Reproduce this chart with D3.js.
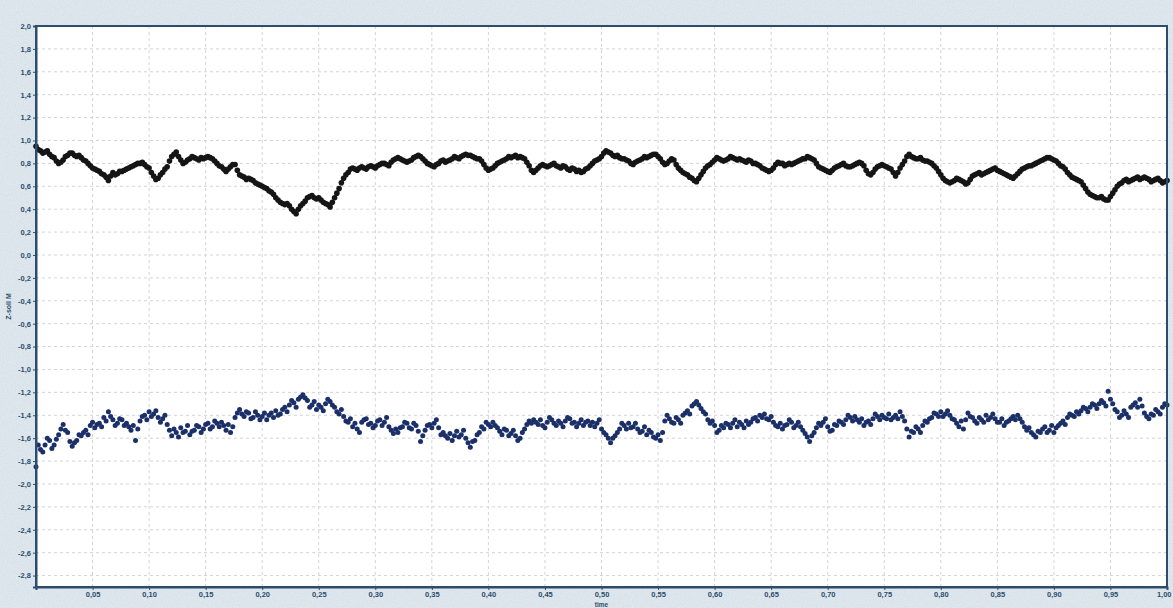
<!DOCTYPE html>
<html lang="en">
<head>
<meta charset="UTF-8">
<title>Z-soll M over time</title>
<style>
  *{margin:0;padding:0;}
  body{background:#dfe7ed;}
  #container{width:1173px;height:608px;}
</style>
</head>
<body>
<div id="container"></div>
<script src="https://cdn.jsdelivr.net/npm/d3@7/dist/d3.min.js"></script>
<script>
// upper series (black), one value every 0.004 of time
var seriesUpper = [
  0.95,0.91,0.90,0.88,0.85,0.80,0.83,0.87,0.89,0.86,
  0.85,0.82,0.78,0.75,0.73,0.70,0.65,0.72,0.71,0.73,
  0.75,0.77,0.79,0.80,0.79,0.76,0.69,0.67,0.72,0.77,
  0.86,0.90,0.83,0.81,0.84,0.85,0.83,0.84,0.86,0.84,
  0.80,0.77,0.73,0.77,0.79,0.70,0.68,0.67,0.65,0.62,
  0.60,0.58,0.55,0.50,0.46,0.44,0.43,0.38,0.40,0.45,
  0.50,0.52,0.49,0.48,0.45,0.42,0.50,0.58,0.67,0.72,
  0.76,0.74,0.77,0.75,0.78,0.76,0.79,0.80,0.78,0.83,
  0.85,0.83,0.81,0.83,0.86,0.86,0.82,0.79,0.77,0.80,
  0.83,0.82,0.84,0.85,0.86,0.88,0.87,0.85,0.84,0.79,
  0.74,0.76,0.80,0.82,0.84,0.85,0.87,0.86,0.84,0.78,
  0.72,0.76,0.79,0.77,0.79,0.78,0.76,0.77,0.74,0.75,
  0.74,0.73,0.76,0.80,0.83,0.86,0.91,0.89,0.86,0.85,
  0.84,0.82,0.79,0.82,0.84,0.85,0.87,0.88,0.84,0.79,
  0.82,0.83,0.76,0.72,0.70,0.67,0.64,0.70,0.76,0.79,
  0.83,0.84,0.82,0.84,0.85,0.83,0.83,0.81,0.82,0.80,
  0.78,0.75,0.73,0.76,0.81,0.80,0.79,0.79,0.81,0.83,
  0.84,0.85,0.83,0.77,0.75,0.73,0.74,0.77,0.79,0.78,
  0.77,0.79,0.81,0.78,0.71,0.72,0.77,0.79,0.77,0.75,
  0.69,0.76,0.82,0.88,0.85,0.84,0.83,0.82,0.80,0.76,
  0.70,0.65,0.63,0.65,0.66,0.64,0.63,0.69,0.71,0.70,
  0.72,0.74,0.76,0.73,0.71,0.69,0.67,0.71,0.75,0.77,
  0.78,0.80,0.82,0.84,0.85,0.83,0.80,0.77,0.72,0.68,
  0.66,0.64,0.58,0.53,0.51,0.50,0.49,0.48,0.54,0.60,
  0.63,0.66,0.65,0.67,0.66,0.68,0.66,0.65,0.67,0.63,0.65
]
// the samples that fall in between (time + 0.002)
var seriesUpperMid = [
  0.92,0.89,0.91,0.86,0.82,0.81,0.86,0.89,0.87,0.87,
  0.83,0.80,0.76,0.74,0.71,0.68,0.69,0.70,0.73,0.74,
  0.76,0.78,0.80,0.81,0.77,0.72,0.66,0.70,0.75,0.82,
  0.88,0.86,0.80,0.83,0.86,0.84,0.85,0.85,0.85,0.82,
  0.78,0.75,0.75,0.79,0.74,0.69,0.66,0.66,0.63,0.61,
  0.59,0.56,0.53,0.48,0.45,0.45,0.40,0.36,0.43,0.47,
  0.51,0.50,0.50,0.46,0.44,0.46,0.54,0.63,0.70,0.75,
  0.75,0.76,0.76,0.77,0.77,0.78,0.80,0.79,0.81,0.84,
  0.84,0.82,0.82,0.85,0.87,0.84,0.80,0.78,0.79,0.82,
  0.81,0.83,0.86,0.84,0.87,0.87,0.86,0.84,0.82,0.76,
  0.75,0.78,0.81,0.83,0.86,0.86,0.85,0.85,0.81,0.74,
  0.74,0.78,0.78,0.78,0.80,0.77,0.78,0.75,0.76,0.73,
  0.72,0.75,0.78,0.82,0.84,0.89,0.90,0.87,0.87,0.84,
  0.83,0.80,0.81,0.83,0.86,0.86,0.88,0.86,0.81,0.80,
  0.84,0.79,0.74,0.71,0.68,0.65,0.67,0.73,0.78,0.81,
  0.85,0.83,0.83,0.86,0.84,0.84,0.82,0.83,0.80,0.79,
  0.76,0.74,0.74,0.79,0.80,0.78,0.80,0.80,0.82,0.84,
  0.86,0.84,0.80,0.76,0.74,0.72,0.76,0.78,0.80,0.77,
  0.78,0.80,0.80,0.74,0.70,0.75,0.78,0.78,0.76,0.72,
  0.72,0.79,0.86,0.86,0.84,0.85,0.82,0.81,0.78,0.73,
  0.67,0.64,0.64,0.67,0.65,0.62,0.66,0.70,0.72,0.71,
  0.73,0.75,0.74,0.72,0.70,0.68,0.69,0.73,0.76,0.78,
  0.79,0.81,0.83,0.85,0.84,0.82,0.78,0.75,0.70,0.67,
  0.65,0.61,0.55,0.52,0.50,0.51,0.48,0.51,0.57,0.62,
  0.65,0.64,0.66,0.68,0.67,0.67,0.64,0.66,0.65,0.64
]
// lower series (dark blue)
var seriesLower = [
  -1.85,-1.70,-1.66,-1.62,-1.66,-1.57,-1.48,-1.55,-1.67,-1.62,
  -1.58,-1.53,-1.49,-1.51,-1.47,-1.42,-1.37,-1.44,-1.47,-1.44,
  -1.47,-1.53,-1.62,-1.45,-1.40,-1.37,-1.39,-1.42,-1.43,-1.48,
  -1.58,-1.55,-1.51,-1.54,-1.57,-1.53,-1.50,-1.52,-1.47,-1.50,
  -1.47,-1.46,-1.53,-1.55,-1.42,-1.35,-1.41,-1.38,-1.42,-1.40,
  -1.41,-1.44,-1.38,-1.36,-1.39,-1.33,-1.31,-1.29,-1.26,-1.22,
  -1.27,-1.31,-1.35,-1.33,-1.30,-1.28,-1.33,-1.39,-1.41,-1.46,
  -1.50,-1.52,-1.46,-1.43,-1.47,-1.49,-1.44,-1.46,-1.50,-1.56,
  -1.55,-1.50,-1.47,-1.52,-1.49,-1.63,-1.53,-1.48,-1.47,-1.51,
  -1.55,-1.60,-1.62,-1.54,-1.57,-1.60,-1.68,-1.62,-1.55,-1.52,
  -1.48,-1.46,-1.51,-1.57,-1.53,-1.56,-1.58,-1.60,-1.52,-1.45,
  -1.44,-1.48,-1.49,-1.46,-1.44,-1.49,-1.47,-1.45,-1.43,-1.46,
  -1.47,-1.49,-1.45,-1.46,-1.47,-1.52,-1.57,-1.64,-1.58,-1.52,
  -1.49,-1.47,-1.50,-1.52,-1.54,-1.57,-1.55,-1.60,-1.62,-1.45,
  -1.43,-1.47,-1.44,-1.40,-1.36,-1.32,-1.28,-1.34,-1.39,-1.47,
  -1.49,-1.53,-1.51,-1.48,-1.47,-1.50,-1.48,-1.45,-1.46,-1.42,
  -1.40,-1.39,-1.44,-1.46,-1.50,-1.52,-1.48,-1.46,-1.49,-1.50,
  -1.56,-1.63,-1.55,-1.47,-1.46,-1.50,-1.53,-1.49,-1.46,-1.44,
  -1.42,-1.41,-1.46,-1.49,-1.45,-1.43,-1.41,-1.40,-1.43,-1.44,
  -1.40,-1.37,-1.45,-1.59,-1.55,-1.52,-1.49,-1.46,-1.42,-1.39,
  -1.37,-1.39,-1.40,-1.44,-1.50,-1.52,-1.38,-1.42,-1.47,-1.44,
  -1.40,-1.42,-1.43,-1.46,-1.49,-1.45,-1.41,-1.40,-1.46,-1.53,
  -1.55,-1.59,-1.55,-1.50,-1.53,-1.55,-1.49,-1.45,-1.42,-1.40,
  -1.37,-1.36,-1.34,-1.33,-1.31,-1.30,-1.29,-1.19,-1.30,-1.37,
  -1.40,-1.39,-1.33,-1.29,-1.26,-1.38,-1.43,-1.40,-1.37,-1.33,-1.31
]
var seriesLowerMid = [
  -1.66,-1.72,-1.60,-1.69,-1.61,-1.52,-1.53,-1.63,-1.64,-1.57,
  -1.55,-1.57,-1.46,-1.48,-1.50,-1.45,-1.41,-1.49,-1.43,-1.49,
  -1.50,-1.49,-1.52,-1.41,-1.44,-1.41,-1.36,-1.46,-1.40,-1.53,
  -1.52,-1.59,-1.55,-1.49,-1.54,-1.49,-1.55,-1.48,-1.52,-1.45,
  -1.50,-1.49,-1.48,-1.50,-1.38,-1.39,-1.37,-1.43,-1.37,-1.44,
  -1.38,-1.40,-1.42,-1.40,-1.35,-1.37,-1.27,-1.33,-1.24,-1.25,
  -1.33,-1.28,-1.31,-1.36,-1.26,-1.31,-1.37,-1.35,-1.45,-1.43,
  -1.47,-1.55,-1.44,-1.48,-1.51,-1.45,-1.49,-1.42,-1.53,-1.52,
  -1.51,-1.46,-1.51,-1.47,-1.54,-1.58,-1.49,-1.51,-1.44,-1.57,
  -1.58,-1.56,-1.58,-1.59,-1.53,-1.64,-1.63,-1.57,-1.50,-1.46,
  -1.50,-1.49,-1.54,-1.52,-1.58,-1.53,-1.62,-1.55,-1.48,-1.47,
  -1.46,-1.44,-1.51,-1.42,-1.47,-1.45,-1.50,-1.42,-1.47,-1.50,
  -1.44,-1.46,-1.49,-1.50,-1.44,-1.55,-1.60,-1.60,-1.55,-1.47,
  -1.52,-1.51,-1.47,-1.55,-1.50,-1.53,-1.59,-1.57,-1.55,-1.40,
  -1.46,-1.42,-1.47,-1.38,-1.39,-1.30,-1.31,-1.37,-1.44,-1.45,
  -1.55,-1.49,-1.47,-1.51,-1.44,-1.46,-1.51,-1.48,-1.43,-1.45,
  -1.42,-1.43,-1.41,-1.49,-1.47,-1.49,-1.44,-1.51,-1.46,-1.53,
  -1.59,-1.58,-1.51,-1.49,-1.43,-1.54,-1.48,-1.45,-1.48,-1.40,
  -1.45,-1.44,-1.43,-1.46,-1.48,-1.39,-1.44,-1.42,-1.39,-1.42,
  -1.43,-1.41,-1.52,-1.54,-1.50,-1.55,-1.45,-1.43,-1.38,-1.41,
  -1.41,-1.36,-1.43,-1.47,-1.45,-1.44,-1.41,-1.45,-1.42,-1.46,
  -1.44,-1.39,-1.46,-1.43,-1.46,-1.43,-1.44,-1.43,-1.50,-1.51,
  -1.57,-1.54,-1.52,-1.55,-1.49,-1.51,-1.47,-1.48,-1.39,-1.41,
  -1.39,-1.33,-1.37,-1.30,-1.34,-1.27,-1.32,-1.26,-1.35,-1.42,
  -1.36,-1.42,-1.31,-1.33,-1.32,-1.41,-1.39,-1.35,-1.39,-1.30
]
// sample times: main samples on 0..1, mid samples half a step later
var time = d3.range(seriesUpper.length).map(function(i){ return i / (seriesUpper.length - 1) })
var timeMid = d3.range(seriesUpperMid.length).map(function(i){ return (i + 0.5) / seriesUpperMid.length })

var xTicks = [0.05,0.10,0.15,0.20,0.25,0.30,0.35,0.40,0.45,0.50,0.55,0.60,0.65,0.70,0.75,0.80,0.85,0.90,0.95,1.00]
var yTicks = [2.0,1.8,1.6,1.4,1.2,1.0,0.8,0.6,0.4,0.2,0.0,-0.2,-0.4,-0.6,-0.8,-1.0,-1.2,-1.4,-1.6,-1.8,-2.0,-2.2,-2.4,-2.6,-2.8]

var W = 1173, H = 608
var margin = {left:36, top:26, right:6, bottom:21}
var gw = W - margin.left - margin.right
var gh = H - margin.top - margin.bottom

var loc = d3.formatLocale({decimal:',', thousands:'.', grouping:[3], currency:['',''], minus:'-'})
var fmtX = loc.format('.2f'), fmtY = loc.format('.1f')

var svg = d3.select('#container').append('svg').attr('width', W).attr('height', H)

// speckled backdrop
var defs = svg.append('defs')
var f = defs.append('filter').attr('id', 'speckle').attr('x', 0).attr('y', 0).attr('width', '100%').attr('height', '100%')
f.append('feTurbulence').attr('type', 'fractalNoise').attr('baseFrequency', 0.9).attr('numOctaves', 2).attr('seed', 4)
f.append('feColorMatrix').attr('type', 'matrix')
  .attr('values', '0 0 0 0 0.55  0 0 0 0 0.65  0 0 0 0 0.75  0 0 0 -1.6 1.05')
svg.append('rect').attr('width', W).attr('height', H).attr('fill', '#e0e8ee')
svg.append('rect').attr('width', W).attr('height', H).attr('filter', 'url(#speckle)').attr('opacity', 0.55)

var g = svg.append('g').attr('transform', `translate(${margin.left},${margin.top})`)

var scale_x = d3.scaleLinear().domain([0, 1]).range([0, gw])
var scale_y = d3.scaleLinear().domain([-2.9, 2.0]).range([gh, 0])

g.append('rect').attr('width', gw).attr('height', gh).attr('fill', '#fff')

// dashed grid
g.append('g').selectAll('line').data(yTicks).join('line')
  .attr('x1', 0).attr('x2', gw)
  .attr('y1', d => scale_y(d)).attr('y2', d => scale_y(d))
  .attr('stroke', '#d0d4d8').attr('stroke-width', 1).attr('stroke-dasharray', '3,3')
g.append('g').selectAll('line').data(xTicks).join('line')
  .attr('y1', 0).attr('y2', gh)
  .attr('x1', d => scale_x(d)).attr('x2', d => scale_x(d))
  .attr('stroke', '#d0d4d8').attr('stroke-width', 1).attr('stroke-dasharray', '3,3')

// data dots
function dots(values, times, r, color){
  g.append('g').selectAll('circle').data(values).join('circle')
    .attr('cx', (d, i) => scale_x(times[i])).attr('cy', d => scale_y(d))
    .attr('r', r).attr('fill', color)
}
dots(seriesLower, time, 2.5, '#1b2f68')
dots(seriesLowerMid, timeMid, 2.5, '#1b2f68')
dots(seriesUpper, time, 2.8, '#151515')
dots(seriesUpperMid, timeMid, 2.8, '#151515')

// frame
var axisColor = '#2d4d6c'
g.append('rect').attr('width', gw).attr('height', gh)
  .attr('fill', 'none').attr('stroke', axisColor).attr('stroke-width', 2)

var x_axis = d3.axisBottom(scale_x).tickValues(xTicks).tickFormat(fmtX).tickSize(3).tickPadding(2)
var y_axis = d3.axisLeft(scale_y).tickValues(yTicks).tickFormat(fmtY).tickSize(3).tickPadding(2)

var xa = g.append('g').attr('transform', `translate(0,${gh})`).call(x_axis)
var ya = g.append('g').call(y_axis)
;[xa, ya].forEach(function(a){
  a.select('.domain').attr('stroke', axisColor).attr('stroke-width', 2)
  a.selectAll('.tick line').attr('stroke', axisColor)
  a.selectAll('.tick text').attr('fill', axisColor)
    .style('font-family', '"Liberation Sans", Arial, sans-serif')
    .style('font-size', '7.5px').style('font-weight', 'bold')
})
// last label sits against the right edge
xa.selectAll('.tick text').filter(d => d === 1).attr('text-anchor', 'end').attr('dx', 4)

svg.append('text').text('time')
  .attr('x', margin.left + scale_x(0.5)).attr('y', H - 1)
  .attr('text-anchor', 'middle').attr('fill', axisColor)
  .style('font-family', '"Liberation Sans", Arial, sans-serif')
  .style('font-size', '6.5px').style('font-weight', 'bold')

svg.append('text').text('Z-soll M')
  .attr('transform', `translate(11,${margin.top + scale_y(-0.45)}) rotate(-90)`)
  .attr('text-anchor', 'middle').attr('fill', axisColor)
  .style('font-family', '"Liberation Sans", Arial, sans-serif')
  .style('font-size', '7px').style('font-weight', 'bold')
</script>
</body>
</html>
